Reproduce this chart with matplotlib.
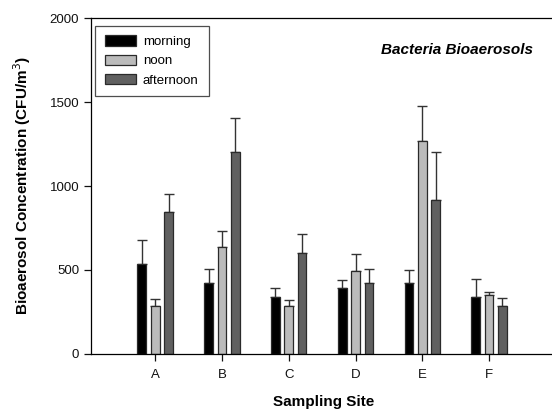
import numpy as np
import matplotlib

matplotlib.use('Agg')
import matplotlib.pyplot as plt

plt.rcParams['font.family'] = ['Liberation Sans', 'DejaVu Sans']

sites = ['A', 'B', 'C', 'D', 'E', 'F']
morning = [534, 425, 341, 391, 425, 341]
morning_err = [143, 83, 54, 51, 75, 105]
noon = [284, 635, 284, 496, 1270, 353]
noon_err = [43, 97, 35, 101, 208, 18]
afternoon = [847, 1200, 599, 425, 917, 284]
afternoon_err = [103, 205, 117, 81, 287, 51]

series = [
    ('morning', morning, morning_err, '#000000'),
    ('noon', noon, noon_err, '#bbbbbb'),
    ('afternoon', afternoon, afternoon_err, '#606060'),
]

fig = plt.figure(figsize=(5.52, 4.12), dpi=100)
ax = fig.add_axes([0.165, 0.141, 0.842, 0.815])

x = np.arange(len(sites))
width = 0.13
step = 0.2
for i, (name, vals, errs, color) in enumerate(series):
    pos = x + (i - 1) * step
    ax.bar(pos, vals, width, color=color, edgecolor='#2a2a2a',
           linewidth=0.9, label=name, zorder=2)
    ax.errorbar(pos, vals, yerr=[np.zeros(len(errs)), errs], fmt='none',
                ecolor='#333333', elinewidth=1.0, capsize=3.6,
                capthick=1.0, zorder=1)

ax.set_xlim(-0.96, 6.0)
ax.set_ylim(0, 2000)
ax.set_yticks([0, 500, 1000, 1500, 2000])
ax.set_xticks(x)
ax.set_xticklabels(sites)
ax.tick_params(axis='both', direction='out', length=5, width=0.9,
               labelsize=9.5, colors='#111111')
ax.tick_params(axis='x', pad=6)
for side in ['left', 'top', 'bottom']:
    ax.spines[side].set_linewidth(0.9)
ax.spines['right'].set_visible(False)

ax.set_ylabel('Bioaerosol Concentration (CFU/m$^3$)', fontsize=11,
              fontweight='bold', labelpad=12)
ax.set_xlabel('Sampling Site', fontsize=11, fontweight='bold', labelpad=10)

ax.text(533 / 552, 1 - 50 / 412, 'Bacteria Bioaerosols',
        transform=fig.transFigure, ha='right', va='center', fontsize=11,
        fontweight='bold', style='italic')

leg = ax.legend(loc='upper left', bbox_to_anchor=(0.008, 0.978),
                fontsize=9.5, frameon=True, fancybox=False, handlelength=2.4,
                handleheight=0.8, handletextpad=0.5, labelspacing=0.5,
                borderpad=0.75, borderaxespad=0)
leg.get_frame().set_edgecolor('#222222')
leg.get_frame().set_linewidth(0.9)

fig.savefig('out.png', dpi=100)
